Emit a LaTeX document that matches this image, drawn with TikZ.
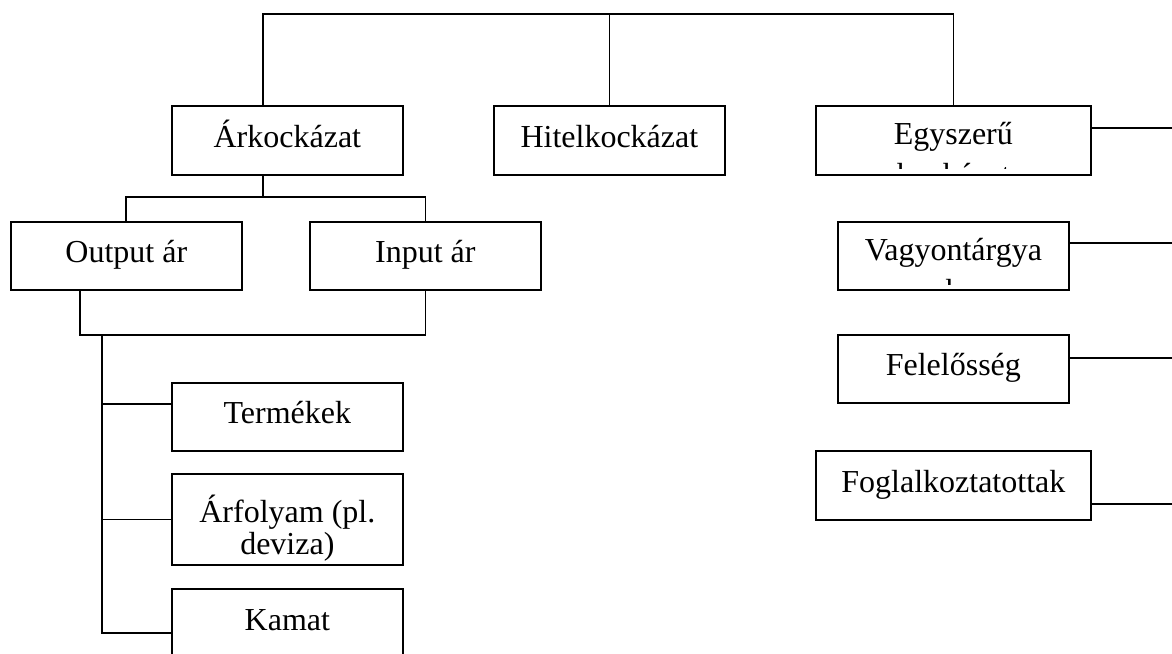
\documentclass[tikz,border=0pt]{standalone}
\usepackage{fontspec}
\setmainfont{Liberation Serif}
\usetikzlibrary{calc}
\begin{document}
\begin{tikzpicture}[x=1pt,y=-1pt,line width=1.7pt,
  box/.style={draw, rectangle, inner sep=0pt, anchor=north west,
    font=\fontsize{32}{37}\selectfont, text height=25pt, text depth=11pt},
  wide/.style={minimum width=275pt, minimum height=69pt},
  norm/.style={minimum width=231pt, minimum height=68pt},
  lbl/.style={anchor=base, inner sep=0pt, font=\fontsize{32}{37}\selectfont}]
\useasboundingbox (0,0) rectangle (1172,653);
\clip (0,0) rectangle (1172,653);

% boxes
\node[box, norm, minimum height=69pt] (ark) at (171,105) {Árkockázat};
\node[box, norm, minimum height=69pt] (hit) at (493,105) {Hitelkockázat};
\node[box, wide] (egy) at (815,105) {};
\node[box, norm] (out) at (10,221) {Output ár};
\node[box, norm] (inp) at (309,221) {Input ár};
\node[box, norm] (term) at (171,382) {Termékek};
\node[box, norm, minimum height=91pt, text height=25pt, text depth=18pt] (arf) at (171,473)
  {\fontsize{32}{31}\selectfont\begin{tabular}[t]{@{}c@{}}Árfolyam (pl.\\deviza)\end{tabular}};
\node[box, norm, minimum height=69pt] (kam) at (171,588) {Kamat};
\node[box, norm] (vag) at (837,221) {};
\node[box, norm] (fel) at (837,334) {Felelősség};
\node[box, wide] (fog) at (815,450) {Foglalkoztatottak};

% clipped texts
\begin{scope}
  \clip (egy.north west) rectangle ($(egy.south east)+(0,-7)$);
  \node[lbl] (egyt) at ($(egy.north)+(0,39)$)
    {\begin{tabular}[t]{@{}c@{}}Egyszerű\\[4pt]kockázat\end{tabular}};
\end{scope}
\begin{scope}
  \clip (vag.north west) rectangle ($(vag.south east)+(0,-6)$);
  \node[lbl] (vagt) at ($(vag.north)+(0,39)$)
    {\begin{tabular}[t]{@{}c@{}}Vagyontárgya\\[4pt]k\end{tabular}};
\end{scope}

% top connector
\coordinate (topL) at (263,14);
\draw (ark.north -| topL) -- (topL) -- (egy.north |- topL) -- (egy.north);
\draw (hit.north) -- (hit.north |- topL);

% Arkockazat to Output/Input
\coordinate (j1) at (263,197);
\coordinate (oL) at (126,197);
\draw (ark.south -| j1) -- (j1);
\draw (out.north -| oL) -- (oL) -- (inp.north |- oL) -- (inp.north);

% Output/Input to trunk
\coordinate (b1) at (80,335);
\draw (out.south -| b1) -- (b1) -- (inp.south |- b1) -- (inp.south);
\coordinate (tr) at (102,335);
\coordinate (kb) at ($(kam.north west)+(0,45)$);
\draw (tr) |- (kb);
\coordinate (tb) at ($(term.north west)+(0,22)$);
\draw (tb -| tr) -- (tb);
\draw (arf.west -| tr) -- (arf.west);

% right lines to edge
\coordinate (edge) at (1172,0);
\coordinate (e1) at ($(egy.north east)+(0,23)$);
\draw (e1) -- (e1 -| edge);
\coordinate (e2) at ($(vag.north east)+(0,22)$);
\draw (e2) -- (e2 -| edge);
\coordinate (e3) at ($(fel.north east)+(0,24)$);
\draw (e3) -- (e3 -| edge);
\coordinate (e4) at ($(fog.north east)+(0,54)$);
\draw (e4) -- (e4 -| edge);
\end{tikzpicture}
\end{document}
